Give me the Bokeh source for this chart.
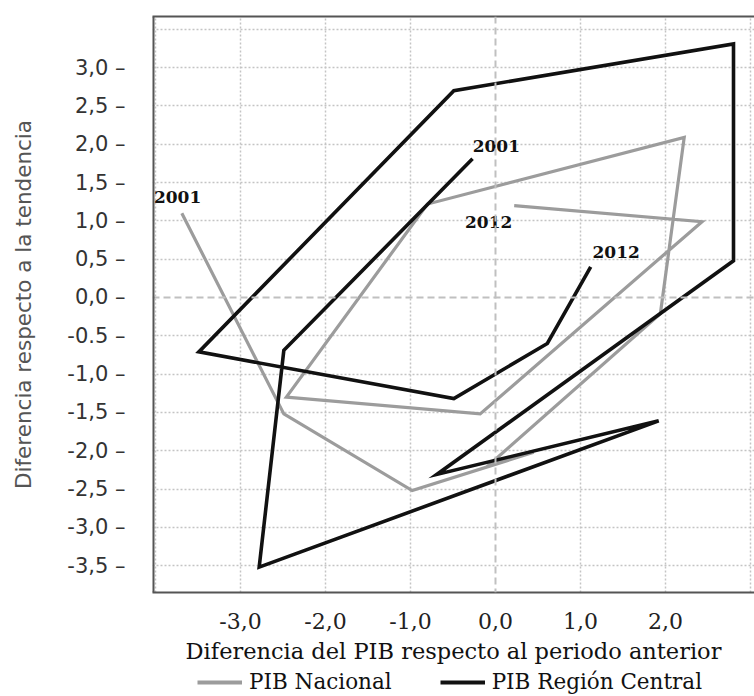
from bokeh.plotting import figure
from bokeh.layouts import column
from bokeh.models import (Range1d, FixedTicker, LinearAxis, Span, Legend, LegendItem,
                          ColumnDataSource)
from bokeh.core.properties import value
from bokeh.embed import file_html
from bokeh.resources import INLINE

# ---- data ----
years = list(range(2001, 2013))
nac_x = [-3.69, -2.49, -0.98, 0.45, -0.06, 1.94, 2.22, -0.80, -2.46, -0.18, 2.43, 0.22]
nac_y = [1.10, -1.52, -2.52, -2.02, -2.17, -0.21, 2.09, 1.22, -1.30, -1.52, 0.99, 1.20]
cen_x = [-0.27, -2.49, -2.78, 1.92, -0.69, 2.80, 2.80, -0.49, -3.49, -0.49, 0.61, 1.12]
cen_y = [1.81, -0.69, -3.52, -1.61, -2.31, 0.48, 3.31, 2.70, -0.71, -1.32, -0.60, 0.40]

ann_text = ["2001", "2001", "2012", "2012"]
ann_x = [-3.74, 0.01, -0.08, 1.42]
ann_y = [1.31, 1.98, 0.99, 0.60]

x_ticks = [-3, -2, -1, 0, 1, 2]
x_tick_labels = ["-3,0", "-2,0", "-1,0", "0,0", "1,0", "2,0"]
y_ticks = [3.0, 2.5, 2.0, 1.5, 1.0, 0.5, 0.0, -0.5, -1.0, -1.5, -2.0, -2.5, -3.0, -3.5]
y_tick_labels = ["3,0", "2,5", "2,0", "1,5", "1,0", "0,5", "0,0", "-0.5", "-1,0",
                 "-1,5", "-2,0", "-2,5", "-3,0", "-3,5"]
x_grid = [-4, -3, -2, -1, 1, 2, 3]
y_grid = [3.5, 3.0, 2.5, 2.0, 1.5, 1.0, 0.5, -0.5, -1.0, -1.5, -2.0, -2.5, -3.0, -3.5]

series_names = ["PIB Nacional", "PIB Región Central"]
series_colors = ["#9c9c9c", "#111111"]
series_x = [nac_x, cen_x]
series_y = [nac_y, cen_y]

SERIF = "DejaVu Serif"
SANS = "DejaVu Sans"
X0, X1, Y0, Y1 = -4.035, 3.047, -3.851, 3.668

p = figure(width=754, height=666,
           x_range=Range1d(X0, X1), y_range=Range1d(Y0, Y1),
           output_backend="svg", toolbar_location=None,
           min_border_left=152, min_border_right=0, min_border_top=16, min_border_bottom=74)
p.outline_line_color = None
p.background_fill_color = "white"

# axes
p.xaxis.ticker = FixedTicker(ticks=x_ticks)
p.xaxis.major_label_overrides = {t: l for t, l in zip(x_ticks, x_tick_labels)}
p.yaxis.ticker = FixedTicker(ticks=y_ticks)
p.yaxis.major_label_overrides = {t: l + " \u2013" for t, l in zip(y_ticks, y_tick_labels)}

for ax in (p.xaxis[0], p.yaxis[0]):
    ax.axis_line_color = "#555555"
    ax.axis_line_width = 2
    ax.major_tick_line_color = None
    ax.minor_tick_line_color = None
    ax.axis_label_text_font_style = "normal"

p.xaxis.axis_label = "Diferencia del PIB respecto al periodo anterior"
p.xaxis.axis_label_text_font = SERIF
p.xaxis.axis_label_text_font_size = "22.5px"
p.xaxis.axis_label_text_color = "#111111"
p.xaxis.axis_label_standoff = 6
p.xaxis.major_label_text_font = SERIF
p.xaxis.major_label_text_font_size = "22px"
p.xaxis.major_label_text_color = "#222222"
p.xaxis.major_label_standoff = 14

# y axis: its rule is set a little off-centre so that the title sits where the reference has it;
# the visible left border of the frame is drawn by a span instead
p.yaxis.bounds = (-3.506, 3.95)
p.yaxis.axis_line_color = None
p.yaxis.axis_label = "Diferencia respecto a la tendencia"
p.yaxis.axis_label_text_font = SANS
p.yaxis.axis_label_text_font_size = "21.5px"
p.yaxis.axis_label_text_color = "#555555"
p.yaxis.axis_label_standoff = 28
p.yaxis.major_label_text_font = SANS
p.yaxis.major_label_text_font_size = "21px"
p.yaxis.major_label_text_color = "#333333"
p.yaxis.major_label_standoff = 21

top = LinearAxis(ticker=FixedTicker(ticks=[]), axis_line_color="#555555", axis_line_width=2,
                 major_tick_line_color=None, minor_tick_line_color=None,
                 major_label_text_font_size="0px")
p.add_layout(top, "above")

# grid
p.xgrid.ticker = FixedTicker(ticks=x_grid)
p.ygrid.ticker = FixedTicker(ticks=y_grid)
for g in (p.xgrid[0], p.ygrid[0]):
    g.grid_line_color = "#c4c4c4"
    g.grid_line_dash = "2 2"
    g.grid_line_width = 1.5

p.add_layout(Span(location=0, dimension="width", line_color="#c0c0c0", line_dash="7 4", line_width=2))
p.add_layout(Span(location=0, dimension="height", line_color="#c0c0c0", line_dash="7 4", line_width=2))
p.add_layout(Span(location=X0, dimension="height", line_color="#555555", line_width=4))

# series
widths = [3.2, 3.6]
for xs, ys, col, w in zip(series_x, series_y, series_colors, widths):
    src = ColumnDataSource(dict(x=xs, y=ys, year=years))
    p.line("x", "y", source=src, line_color=col, line_width=w, line_join="miter")

p.text(x=ann_x, y=ann_y, text=ann_text, text_font=value(SERIF), text_font_style="bold",
       text_font_size="17px", text_align="center", text_baseline="middle", text_color="#111111")

# legend strip below the chart (proxy renderers hold the series' first point only,
# which lies outside this strip's range, so only the legend keys are drawn)
lg = figure(width=754, height=30, output_backend="svg", toolbar_location=None,
            x_range=Range1d(10, 11), y_range=Range1d(10, 11),
            x_axis_location=None, y_axis_location=None,
            min_border_left=0, min_border_right=0, min_border_top=0, min_border_bottom=0)
lg.outline_line_color = None
lg.grid.visible = False
items = []
for name, col, xs, ys in zip(series_names, series_colors, series_x, series_y):
    r = lg.line(x=xs[:1], y=ys[:1], line_color=col, line_width=4)
    items.append(LegendItem(label=name, renderers=[r]))
legend = Legend(items=items, orientation="horizontal", location=(45, 2),
                glyph_width=45, glyph_height=20, label_standoff=7, spacing=48,
                padding=0, margin=0, border_line_color=None, background_fill_alpha=0,
                label_text_font=SERIF, label_text_font_size="21.5px", label_text_color="#111111")
lg.add_layout(legend, "center")

layout = column(p, lg, spacing=0)
open("out.html", "w").write(file_html(layout, INLINE))
